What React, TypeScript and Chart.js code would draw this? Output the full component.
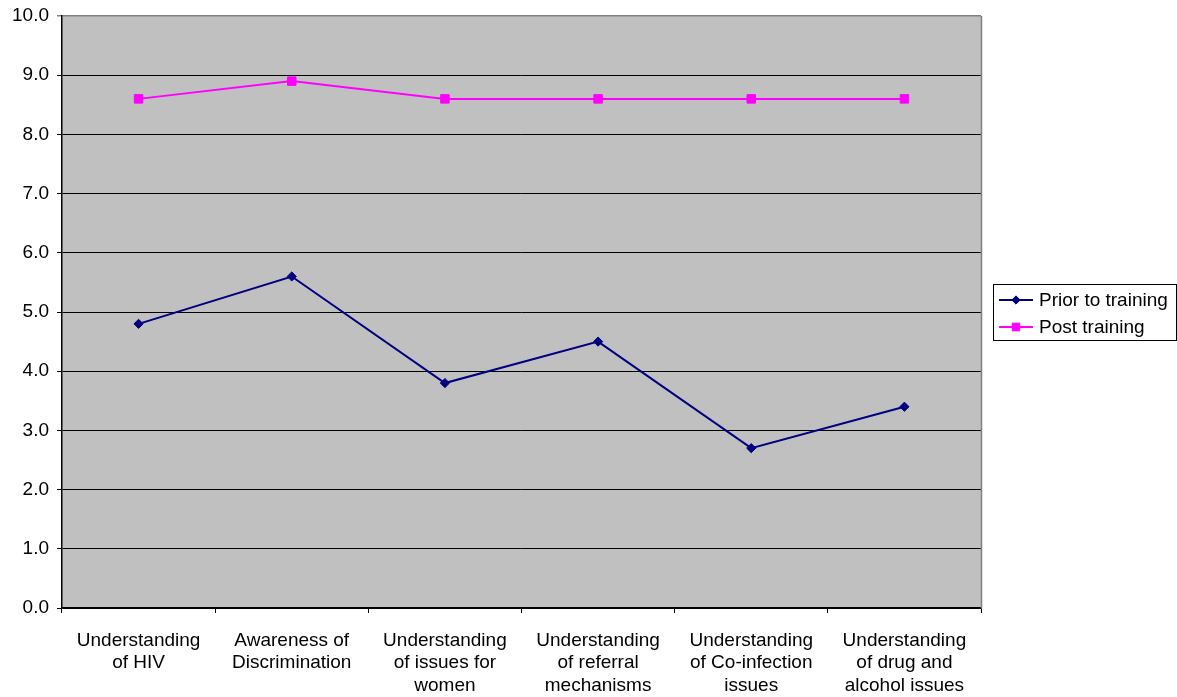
import React, { useEffect, useRef } from "react";
import { Chart, registerables } from "chart.js";
import { drawPoint } from "chart.js/helpers";

Chart.register(...registerables);

const categories: string[][] = [
  ["Understanding", "of HIV"],
  ["Awareness of", "Discrimination"],
  ["Understanding", "of issues for", "women"],
  ["Understanding", "of referral", "mechanisms"],
  ["Understanding", "of Co-infection", "issues"],
  ["Understanding", "of drug and", "alcohol issues"],
];

const priorToTraining: number[] = [4.8, 5.6, 3.8, 4.5, 2.7, 3.4];
const postTraining: number[] = [8.6, 8.9, 8.6, 8.6, 8.6, 8.6];

const seriesNames: string[] = ["Prior to training", "Post training"];

const FONT = '"Liberation Sans", Arial, Helvetica, sans-serif';

// Grey plot background, grey right-hand border and a boxed legend on the right
const plotDecor = {
  id: "plotDecor",
  beforeDraw(chart: any) {
    const { ctx, chartArea: a } = chart;
    ctx.save();
    ctx.fillStyle = "#C0C0C0";
    ctx.fillRect(a.left, a.top, a.right - a.left, a.bottom - a.top);
    ctx.restore();
  },
  afterDraw(chart: any) {
    const { ctx, chartArea: a } = chart;
    ctx.save();
    ctx.strokeStyle = "#808080";
    ctx.lineWidth = 1.5;
    ctx.beginPath();
    ctx.moveTo(a.right + 0.5, a.top);
    ctx.lineTo(a.right + 0.5, a.bottom);
    ctx.stroke();

    // legend box
    const bx = 993.5;
    const by = 284.5;
    const bw = 183;
    const bh = 56;
    ctx.strokeStyle = "#000";
    ctx.lineWidth = 1;
    ctx.strokeRect(bx, by, bw, bh);

    ctx.font = `19px ${FONT}`;
    ctx.textBaseline = "middle";
    ctx.textAlign = "left";
    chart.data.datasets.forEach((ds: any, i: number) => {
      const y = 300 + i * 27;
      const x0 = bx + 5.5;
      ctx.strokeStyle = ds.borderColor;
      ctx.lineWidth = 2;
      ctx.beginPath();
      ctx.moveTo(x0, y);
      ctx.lineTo(x0 + 34, y);
      ctx.stroke();
      ctx.fillStyle = ds.pointBackgroundColor;
      ctx.strokeStyle = ds.pointBorderColor;
      ctx.lineWidth = 1;
      drawPoint(ctx, { pointStyle: ds.pointStyle, radius: ds.pointRadius * 0.9, borderWidth: 1, rotation: 0 }, x0 + 17, y);
      ctx.fillStyle = "#000";
      ctx.fillText(ds.label, x0 + 40, y + 1);
    });
    ctx.restore();
  },
};

export default function App() {
  const canvasRef = useRef<HTMLCanvasElement | null>(null);

  useEffect(() => {
    const canvas = canvasRef.current;
    if (!canvas) return;
    const chart = new Chart(canvas, {
      type: "line",
      data: {
        labels: categories,
        datasets: [
          {
            label: seriesNames[0],
            data: priorToTraining,
            borderColor: "#000080",
            backgroundColor: "#000080",
            pointBackgroundColor: "#000080",
            pointBorderColor: "#000080",
            pointStyle: "rectRot",
            pointRadius: 4.6,
            pointBorderWidth: 1,
            borderWidth: 2,
            tension: 0,
          },
          {
            label: seriesNames[1],
            data: postTraining,
            borderColor: "#FF00FF",
            backgroundColor: "#FF00FF",
            pointBackgroundColor: "#FF00FF",
            pointBorderColor: "#FF00FF",
            pointStyle: "rect",
            pointRadius: 6,
            pointBorderWidth: 1,
            borderWidth: 2,
            tension: 0,
          },
        ],
      },
      options: {
        responsive: false,
        animation: false,
        layout: { padding: { top: 16, right: 196, left: 0, bottom: 0 } },
        plugins: {
          legend: { display: false },
          tooltip: { enabled: false },
        },
        scales: {
          x: {
            type: "category",
            offset: true,
            grid: {
              offset: true,
              drawOnChartArea: false,
              drawTicks: true,
              tickLength: 5,
              color: "#000",
              lineWidth: 1,
            },
            border: { color: "#000", width: 1.5 },
            ticks: {
              color: "#000",
              font: { family: FONT, size: 19, lineHeight: 1.2 },
              padding: 16,
              maxRotation: 0,
              autoSkip: false,
            },
            afterFit: (scale: any) => {
              scale.height = 89;
              scale.paddingLeft = 0;
              scale.paddingRight = 0;
            },
          },
          y: {
            min: 0,
            max: 10,
            grid: {
              color: (ctx: any) => (ctx.tick && ctx.tick.value === 10 ? "#808080" : "#000"),
              lineWidth: (ctx: any) => (ctx.tick && ctx.tick.value === 10 ? 1.5 : 1),
              drawTicks: true,
              tickLength: 5,
            },
            border: { color: "#000", width: 1.5 },
            ticks: {
              stepSize: 1,
              color: "#000",
              font: { family: FONT, size: 19 },
              padding: 8,
              callback: (v: any) => Number(v).toFixed(1),
            },
            afterFit: (scale: any) => {
              scale.width = 62;
              scale.paddingTop = 0;
              scale.paddingBottom = 0;
            },
          },
        },
      },
      plugins: [plotDecor],
    });
    return () => chart.destroy();
  }, []);

  return (
    <div style={{ position: "absolute", left: 0, top: 0, width: 1177, height: 697, background: "#fff" }}>
      <canvas ref={canvasRef} width={1177} height={697} />
    </div>
  );
}
